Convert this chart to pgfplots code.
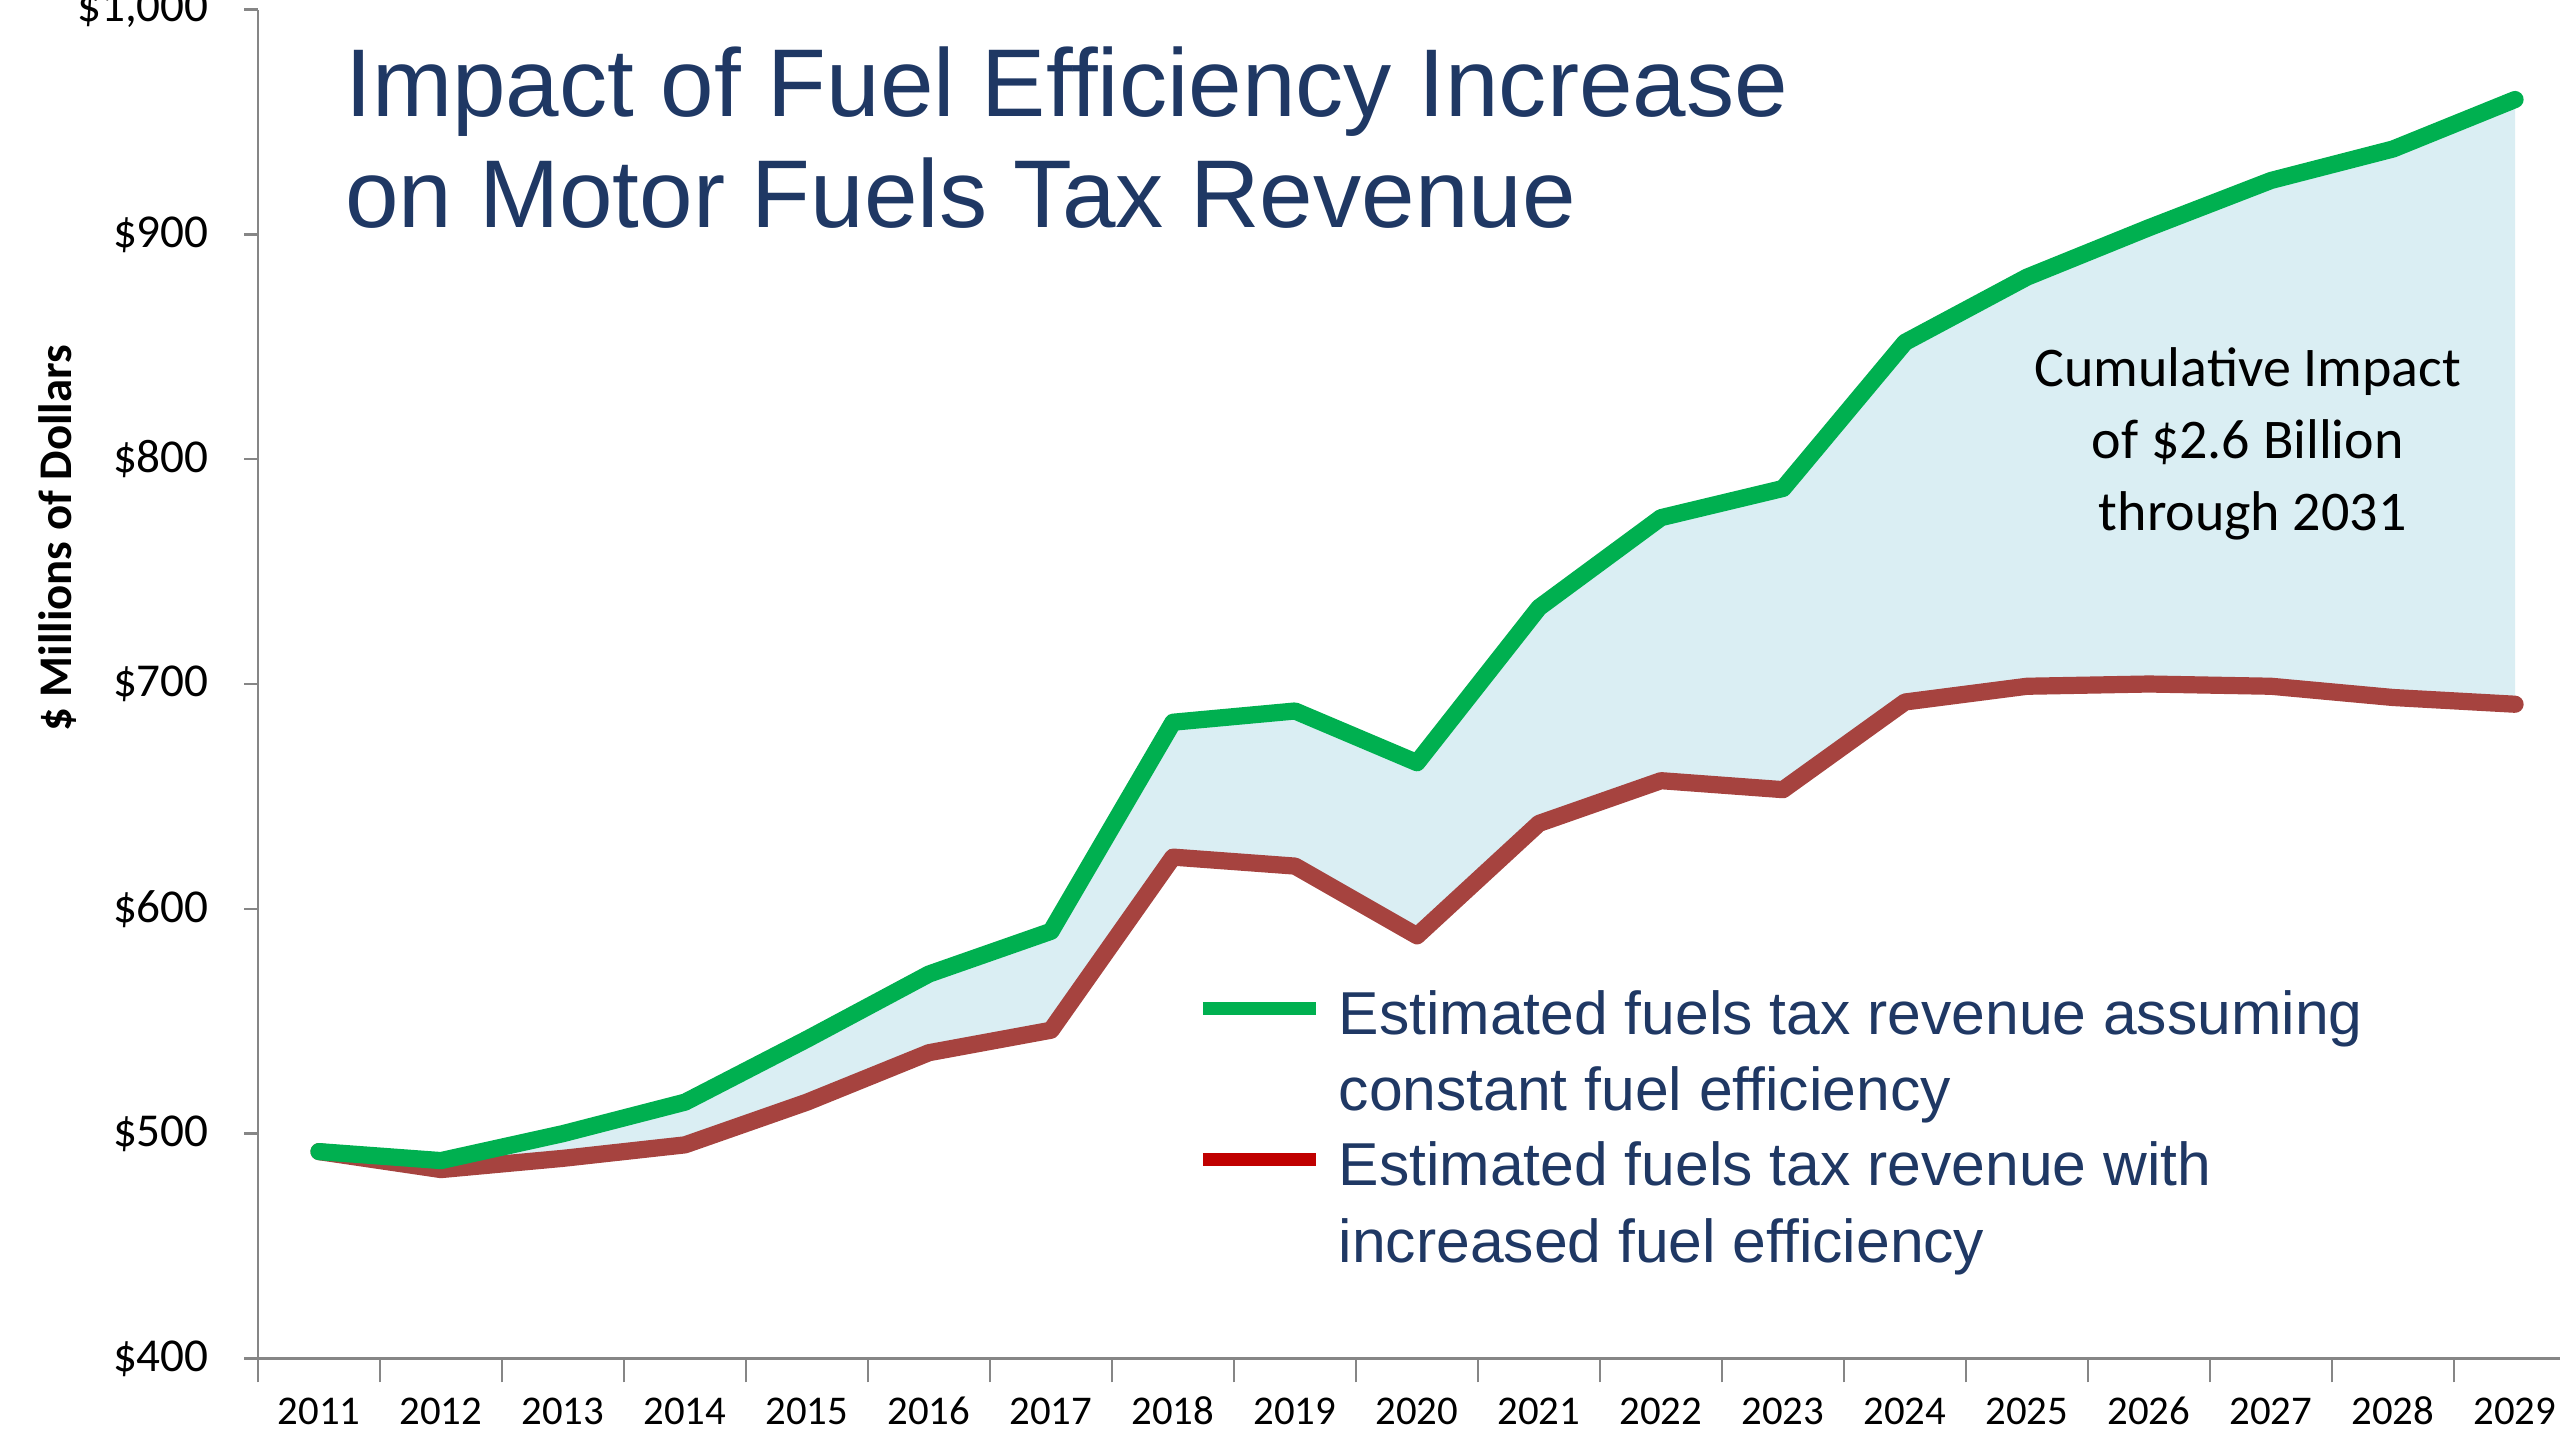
\documentclass[border=0pt]{standalone}
\usepackage{fontspec}
\setmainfont{Carlito}
\newfontfamily\arialfont{Liberation Sans}
\usepackage{pgfplots}
\usepackage{pgfplotstable}
\pgfplotsset{compat=1.18}
\usepgfplotslibrary{fillbetween}
\definecolor{navy}{RGB}{31,56,100}
\definecolor{lgreen}{RGB}{0,176,80}
\definecolor{lred}{RGB}{166,67,63}
\definecolor{legred}{RGB}{192,0,0}
\definecolor{fillblue}{RGB}{218,238,243}
\definecolor{axgray}{RGB}{134,134,134}

\pgfplotstableread{
year green red
2011 492 492
2012 488 484
2013 500 489
2014 514 495
2015 542 514
2016 571 536
2017 590 546
2018 683 623
2019 688 619
2020 665 588
2021 734 638
2022 774 657
2023 787 653
2024 852 692
2025 881 699
2026 903 700
2027 924 699
2028 938 694
2029 960 691
}\datatable

\begin{document}
\begin{tikzpicture}
\begin{axis}[
  scale only axis, width=575.7pt, height=337.2pt,
  xmin=2010.5, xmax=2029.375, ymin=400, ymax=1000,
  axis lines*=left,
  axis line style={axgray, line width=0.6pt, -},
  clip=false,
  xtick={2011,...,2029},
  xticklabels={2011,2012,2013,2014,2015,2016,2017,2018,2019,2020,2021,2022,2023,2024,2025,2026,2027,2028,2029},
  minor xtick={2010.5,2011.5,...,2028.5},
  major x tick style={draw=none},
  minor x tick style={axgray, line width=0.6pt},
  ytick={400,500,...,1000},
  yticklabels={\$400,\$500,\$600,\$700,\$800,\$900,{\$1,000}},
  major y tick style={axgray, line width=0.6pt},
  tick align=outside,
  major tick length=3.5pt, minor tick length=6pt,
  xticklabel style={font=\fontsize{10.2}{12}\selectfont, anchor=base, yshift=-12.9pt},
  yticklabel style={font=\fontsize{11.8}{13}\selectfont, anchor=east, xshift=-5.3pt},
  legend image code/.code={\draw[#1, line width=3.3pt] (0pt,6.5pt) -- (28.2pt,6.5pt);},
  legend style={at={([xshift=-2pt,yshift=1.2pt]axis cs:2018.25,566.4)}, anchor=north west, draw=none, fill=none,
    inner sep=0pt, row sep=23pt, column sep=4.1pt, text=navy,
    font=\arialfont\fontsize{15.15}{19.2}\selectfont,
    cells={anchor=base west}, nodes={inner sep=0pt}},
]
\coordinate (O) at (rel axis cs:0,0);
\addplot[draw=none, name path=G, forget plot] table[x=year, y=green] {\datatable};
\addplot[draw=none, name path=R, forget plot] table[x=year, y=red] {\datatable};
\addplot[fillblue, forget plot] fill between[of=G and R];
\addplot[lred, line width=4.3pt, line cap=round, line join=round, forget plot] table[x=year, y=red] {\datatable};
\addplot[lgreen, line width=4.3pt, line cap=round, line join=round, forget plot] table[x=year, y=green] {\datatable};

\addlegendimage{lgreen}
\addlegendentry{\begin{tabular}[t]{@{}l@{}}Estimated fuels tax revenue assuming\\constant fuel efficiency\end{tabular}}
\addlegendimage{legred}
\addlegendentry{\begin{tabular}[t]{@{}l@{}}Estimated fuels tax revenue with\\increased fuel efficiency\end{tabular}}

\node[anchor=base west, text=navy, font=\arialfont\fontsize{24.06}{28}\selectfont, inner sep=0pt] at (axis cs:2011.21,952.3) {Impact of Fuel Efficiency Increase};
\node[anchor=base west, text=navy, font=\arialfont\fontsize{24.06}{28}\selectfont, inner sep=0pt] at (axis cs:2011.21,902.9) {on Motor Fuels Tax Revenue};

\node[anchor=base, font=\fontsize{14}{18}\selectfont, inner sep=0pt] at (axis cs:2026.81,832.4) {Cumulative Impact};
\node[anchor=base, font=\fontsize{14}{18}\selectfont, inner sep=0pt] at (axis cs:2026.81,800.4) {of \$2.6 Billion};
\node[anchor=base, font=\fontsize{14}{18}\selectfont, inner sep=0pt] at (axis cs:2026.85,768.5) {through 2031};

\node[rotate=90, font=\bfseries\fontsize{11.7}{14}\selectfont, inner sep=0pt] at ([xshift=-50.2pt]axis cs:2010.5,764.8) {\$ Millions of Dollars};
\end{axis}
\pgfresetboundingbox
\useasboundingbox ([xshift=-64.5pt, yshift=-20.4pt]O) rectangle ++(640pt,360pt);
\end{tikzpicture}
\end{document}
